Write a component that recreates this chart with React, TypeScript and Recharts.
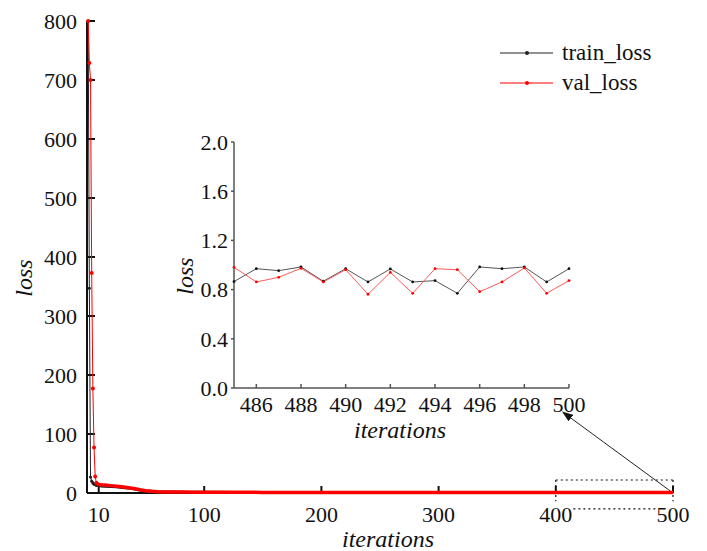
import React from 'react';
import { LineChart, Line, XAxis, YAxis, Label, Legend, ReferenceLine } from 'recharts';

// main curve (sparse after the first few iterations)
const headIterations = [1, 2, 3, 4, 5, 6, 7, 8, 10, 12, 15, 20, 25, 30, 35, 40, 45, 50, 55, 60, 70, 80, 90, 100, 125, 150, 175, 200, 225, 250, 275, 300, 325, 350, 375, 400, 425, 450, 475];
const headTrainLoss = [800, 347, 27, 20, 17, 15, 14, 13, 12.5, 12, 11.5, 11, 10.5, 9.5, 8.5, 7, 5, 3.5, 2.8, 2.2, 1.7, 1.4, 1.2, 1.1, 1.05, 1.0, 1.0, 0.98, 0.97, 0.96, 0.96, 0.95, 0.95, 0.94, 0.94, 0.93, 0.93, 0.92, 0.92];
const headValLoss = [800, 729, 700, 373, 177, 77, 28, 17, 14.5, 14, 13.5, 12.5, 11.5, 10.5, 9, 7.5, 5.5, 4, 3, 2.3, 1.8, 1.5, 1.3, 1.2, 1.1, 1.05, 1.0, 1.0, 0.98, 0.97, 0.96, 0.95, 0.95, 0.94, 0.93, 0.93, 0.92, 0.91, 0.9];

// last 16 iterations
const zoomIterations = [485, 486, 487, 488, 489, 490, 491, 492, 493, 494, 495, 496, 497, 498, 499, 500];
const zoomTrainLoss = [0.865, 0.97, 0.954, 0.984, 0.868, 0.97, 0.862, 0.968, 0.862, 0.873, 0.77, 0.984, 0.97, 0.984, 0.862, 0.97];
const zoomValLoss = [0.981, 0.862, 0.9, 0.973, 0.862, 0.962, 0.762, 0.94, 0.77, 0.97, 0.962, 0.783, 0.862, 0.976, 0.77, 0.873];

const mainXTicks = [10, 100, 200, 300, 400, 500];
const mainYTicks = [0, 100, 200, 300, 400, 500, 600, 700, 800];
const zoomXTicks = [486, 488, 490, 492, 494, 496, 498, 500];
const zoomYTicks = [0, 0.4, 0.8, 1.2, 1.6, 2.0];

const FONT = "'Liberation Serif'";
const TRAIN = '#222222';
const VAL = '#ff0000';

const allIterations = [...headIterations, ...zoomIterations];
const allTrain = [...headTrainLoss, ...zoomTrainLoss];
const allVal = [...headValLoss, ...zoomValLoss];

const mainData = allIterations.map((it, i) => ({
  iteration: it,
  train: allTrain[i],
  val: allVal[i],
  trainTail: it >= 8 ? allTrain[i] : undefined,
  valTail: it >= 8 ? allVal[i] : undefined,
}));

const zoomData = zoomIterations.map((it, i) => ({
  iteration: it,
  train: zoomTrainLoss[i],
  val: zoomValLoss[i],
}));

const tickStyle = { fontFamily: FONT, fontSize: 22, fill: '#111' };

// markers only where the points are spread out; the tail reads as a solid band
const headDot = (color: string, r: number) => (p: any) =>
  p.payload.iteration < 10 ? <circle key={p.index} cx={p.cx} cy={p.cy} r={r} fill={color} /> : <g key={p.index} />;

const renderLegend = (props: any) => {
  const items = (props.payload || []).filter((p: any) => p.type !== 'none');
  return (
    <div style={{ fontFamily: FONT, fontSize: 23, color: '#111' }}>
      {items.map((item: any) => (
        <div key={item.value} style={{ display: 'flex', alignItems: 'center', height: 30 }}>
          <svg width={62} height={30}>
            <line x1={0} x2={53} y1={15} y2={15} stroke={item.color} strokeWidth={1} />
            <circle cx={27} cy={15} r={2} fill={item.color} />
          </svg>
          <span>{item.value}</span>
        </div>
      ))}
    </div>
  );
};

const arrowShape = (p: any) => (
  <line x1={p.x1} y1={p.y1} x2={p.x2} y2={p.y2} stroke="#222" strokeWidth={1} markerEnd="url(#arrowHead)" />
);

const dashed = { stroke: '#111', strokeWidth: 1.2, strokeDasharray: '2 3', ifOverflow: 'visible' as const };

const ZoomChart = () => (
  <LineChart width={450} height={318} data={zoomData} margin={{ top: 12, right: 31, left: 24, bottom: 0 }}>
    <XAxis
      dataKey="iteration"
      type="number"
      domain={[485, 500]}
      ticks={zoomXTicks}
      interval={0}
      height={60}
      tick={tickStyle}
      tickSize={-4}
      tickMargin={12}
      axisLine={{ stroke: '#555', strokeWidth: 1.5 }}
      tickLine={{ stroke: '#555', strokeWidth: 1.5 }}
    >
      <Label
        content={() => (
          <text x={250} y={308} textAnchor="middle" fontFamily={FONT} fontSize={24} fontStyle="italic" fill="#111">
            iterations
          </text>
        )}
      />
    </XAxis>
    <YAxis
      type="number"
      domain={[0, 2]}
      ticks={zoomYTicks}
      interval={0}
      width={60}
      tick={tickStyle}
      tickSize={3}
      tickMargin={3}
      tickFormatter={(v: number) => v.toFixed(1)}
      axisLine={{ stroke: '#555', strokeWidth: 1.5 }}
      tickLine={{ stroke: '#555', strokeWidth: 1.5 }}
    >
      <Label
        content={() => (
          <text x={43} y={146} transform="rotate(-90 43 146)" textAnchor="middle" fontFamily={FONT} fontSize={24} fontStyle="italic" fill="#111">
            loss
          </text>
        )}
      />
    </YAxis>
    <Line dataKey="train" stroke="#555" strokeWidth={1} dot={{ r: 1.4, fill: '#111', stroke: 'none' }} isAnimationActive={false} />
    <Line dataKey="val" stroke="#ff5a5a" strokeWidth={1} dot={{ r: 1.4, fill: '#ff0000', stroke: 'none' }} isAnimationActive={false} />
  </LineChart>
);

export default function App() {
  return (
    <div style={{ position: 'absolute', left: 0, top: 0, width: 707, height: 551, background: '#fff' }}>
      <svg width={0} height={0} style={{ position: 'absolute' }}>
        <defs>
          <marker id="arrowHead" markerWidth={11} markerHeight={8} refX={10} refY={4} orient="auto" markerUnits="userSpaceOnUse">
            <path d="M0,0 L11,4 L0,8 z" fill="#111" />
          </marker>
        </defs>
      </svg>
      <LineChart width={707} height={551} data={mainData} margin={{ top: 21, right: 34, left: 27, bottom: 0 }}>
        <XAxis
          dataKey="iteration"
          type="number"
          domain={[0, 500]}
          ticks={mainXTicks}
          interval={0}
          height={58}
          tick={tickStyle}
          tickSize={-7}
          tickMargin={20}
          axisLine={{ stroke: '#111', strokeWidth: 2 }}
          tickLine={{ stroke: '#111', strokeWidth: 2 }}
        >
          <Label
            content={() => (
              <text x={388} y={547} textAnchor="middle" fontFamily={FONT} fontSize={24} fontStyle="italic" fill="#111">
                iterations
              </text>
            )}
          />
        </XAxis>
        <YAxis
          type="number"
          domain={[0, 800]}
          ticks={mainYTicks}
          interval={0}
          width={60}
          tick={tickStyle}
          tickSize={-8}
          tickMargin={18}
          axisLine={{ stroke: '#111', strokeWidth: 2 }}
          tickLine={{ stroke: '#111', strokeWidth: 2 }}
        >
          <Label
            content={() => (
              <text x={32} y={278} transform="rotate(-90 32 278)" textAnchor="middle" fontFamily={FONT} fontSize={24} fontStyle="italic" fill="#111">
                loss
              </text>
            )}
          />
        </YAxis>
        <Legend
          layout="vertical"
          align="center"
          verticalAlign="middle"
          content={renderLegend}
          wrapperStyle={{ left: 500, top: 38, width: 180, height: 60 }}
        />
        {/* zoom window and arrow */}
        <ReferenceLine segment={[{ x: 400, y: 22 }, { x: 500, y: 22 }]} {...dashed} />
        <ReferenceLine segment={[{ x: 400, y: 22 }, { x: 400, y: -14 }]} {...dashed} />
        <ReferenceLine segment={[{ x: 500, y: 22 }, { x: 500, y: -14 }]} {...dashed} />
        <ReferenceLine segment={[{ x: 415, y: -27 }, { x: 487, y: -27 }]} {...dashed} />
        <ReferenceLine segment={[{ x: 500, y: 0 }, { x: 406, y: 137 }]} ifOverflow="visible" shape={arrowShape} />
        <Line name="train_loss" dataKey="train" stroke={TRAIN} strokeWidth={1} dot={headDot(TRAIN, 1.6)} zIndex={600} isAnimationActive={false} />
        <Line dataKey="trainTail" stroke={TRAIN} strokeWidth={3} dot={false} legendType="none" zIndex={600} isAnimationActive={false} />
        <Line name="val_loss" dataKey="val" stroke={VAL} strokeWidth={1} dot={headDot(VAL, 2)} zIndex={610} isAnimationActive={false} />
        <Line dataKey="valTail" stroke={VAL} strokeWidth={3.5} dot={false} legendType="none" zIndex={610} isAnimationActive={false} />
      </LineChart>
      <div style={{ position: 'absolute', left: 150, top: 130 }}>
        <ZoomChart />
      </div>
    </div>
  );
}
